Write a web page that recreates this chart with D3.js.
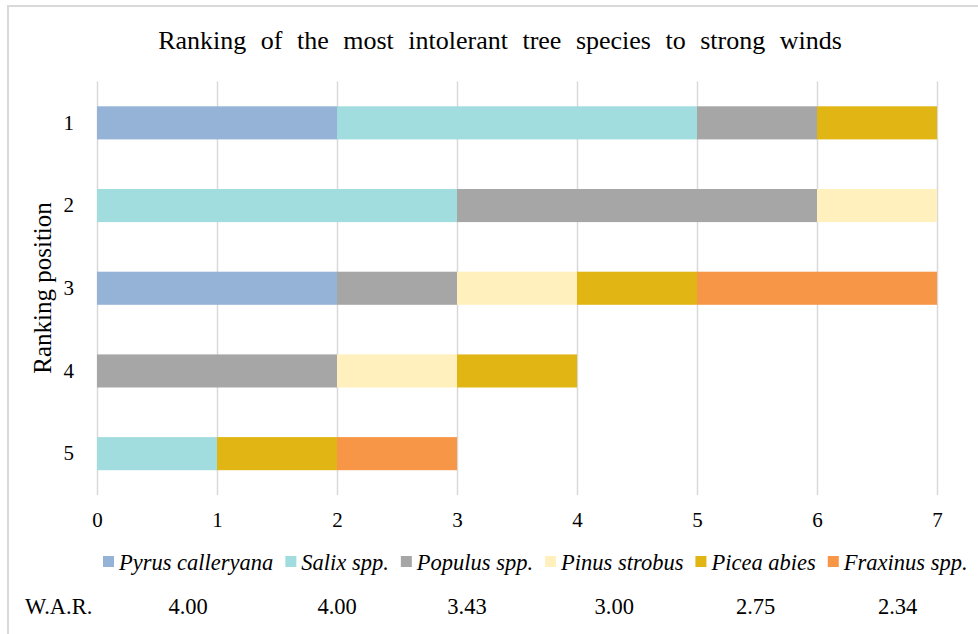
<!DOCTYPE html>
<html><head><meta charset="utf-8">
<script src="https://cdn.jsdelivr.net/npm/d3@7"></script>
<style>
body{margin:0;background:#fff}
svg{display:block}
</style>
</head><body><svg id="chart" width="978" height="634"></svg>
<script>
// Ranking positions (categories) and species (stacked series)
const ranks = ["1", "2", "3", "4", "5"];
const species = ["Pyrus calleryana", "Salix spp.", "Populus spp.", "Pinus strobus", "Picea abies", "Fraxinus spp."];
const colors = ["#95B3D7", "#A1DCDF", "#A6A6A6", "#FFF0BD", "#E0B514", "#F79646"];

// Number of mentions of each species at ranking positions 1..5
const pyrus    = [2, 0, 2, 0, 0];
const salix    = [3, 3, 0, 0, 1];
const populus  = [1, 3, 1, 2, 0];
const pinus    = [0, 1, 1, 1, 0];
const picea    = [1, 0, 1, 1, 1];
const fraxinus = [0, 0, 2, 0, 1];

// Weighted average rank shown under each legend entry
const war = ["4.00", "4.00", "3.43", "3.00", "2.75", "2.34"];
const xTicks = [0, 1, 2, 3, 4, 5, 6, 7];

const seriesValues = [pyrus, salix, populus, pinus, picea, fraxinus];
const rows = ranks.map((r, i) => {
  const o = { rank: r };
  species.forEach((s, j) => { o[s] = seriesValues[j][i]; });
  return o;
});

const FONT = '"Liberation Serif", "Times New Roman", serif';
const svg = d3.select("#chart");

// outer frame
svg.append("rect")
  .attr("x", 8).attr("y", 6).attr("width", 1000).attr("height", 700)
  .attr("fill", "none").attr("stroke", "#D9D9D9").attr("stroke-width", 2);

const plotTop = 81.5, plotBottom = 495;
const x = d3.scaleLinear().domain([0, 7]).range([97, 937]);
const y = d3.scaleBand().domain(ranks).range([plotTop, plotBottom]).paddingInner(0.6).paddingOuter(0.3);
const color = d3.scaleOrdinal().domain(species).range(colors);

// title
svg.append("text")
  .attr("x", 500).attr("y", 49)
  .attr("text-anchor", "middle")
  .style("font-family", FONT).style("font-size", "26px").style("word-spacing", "8px")
  .attr("fill", "#000")
  .text("Ranking of the most intolerant tree species to strong winds");

// vertical gridlines + x tick labels
const xAxis = svg.append("g")
  .attr("transform", `translate(0,${plotBottom})`)
  .call(d3.axisBottom(x).tickValues(xTicks).tickFormat(d3.format("d"))
    .tickSize(-(plotBottom - plotTop)).tickPadding(17));
xAxis.select(".domain").remove();
xAxis.selectAll(".tick line").attr("stroke", "#D9D9D9").attr("stroke-width", 1.5);
xAxis.selectAll(".tick text")
  .style("font-family", FONT).style("font-size", "21px").attr("fill", "#000");

// stacked bars
const layers = d3.stack().keys(species)(rows);
svg.append("g").selectAll("g")
  .data(layers).join("g")
  .attr("fill", d => color(d.key))
  .selectAll("rect")
  .data(d => d).join("rect")
  .attr("x", d => x(d[0]))
  .attr("y", d => y(d.data.rank))
  .attr("width", d => x(d[1]) - x(d[0]))
  .attr("height", y.bandwidth());

// y tick labels
const yAxis = svg.append("g")
  .attr("transform", "translate(97,0)")
  .call(d3.axisLeft(y).tickSize(0).tickPadding(23));
yAxis.select(".domain").remove();
yAxis.selectAll(".tick text")
  .style("font-family", FONT).style("font-size", "21px").attr("fill", "#000");

// y axis title
svg.append("text")
  .attr("transform", "translate(51,288) rotate(-90)")
  .attr("text-anchor", "middle")
  .style("font-family", FONT).style("font-size", "25px").attr("fill", "#000")
  .text("Ranking position");

// legend laid out left to right, each entry measured from its text
const legend = svg.append("g");
let lx = 103;
const centers = [];
species.forEach((s, i) => {
  const g = legend.append("g");
  g.append("rect").attr("x", lx).attr("y", 556).attr("width", 11).attr("height", 11)
    .attr("fill", colors[i]);
  const t = g.append("text")
    .attr("x", lx + 16).attr("y", 570)
    .style("font-family", FONT).style("font-size", "22.5px").style("font-style", "italic")
    .attr("fill", "#000").text(s);
  const w = t.node().getComputedTextLength();
  centers.push(lx + (16 + w) / 2);
  lx += 16 + w + 12;
});

// weighted average rank row
svg.append("text")
  .attr("x", 25).attr("y", 614)
  .style("font-family", FONT).style("font-size", "22.5px").attr("fill", "#000")
  .text("W.A.R.");
svg.append("g").selectAll("text")
  .data(war).join("text")
  .attr("x", (d, i) => centers[i])
  .attr("y", 614)
  .attr("text-anchor", "middle")
  .style("font-family", FONT).style("font-size", "22.5px").attr("fill", "#000")
  .text(d => d);
</script>
</body></html>
